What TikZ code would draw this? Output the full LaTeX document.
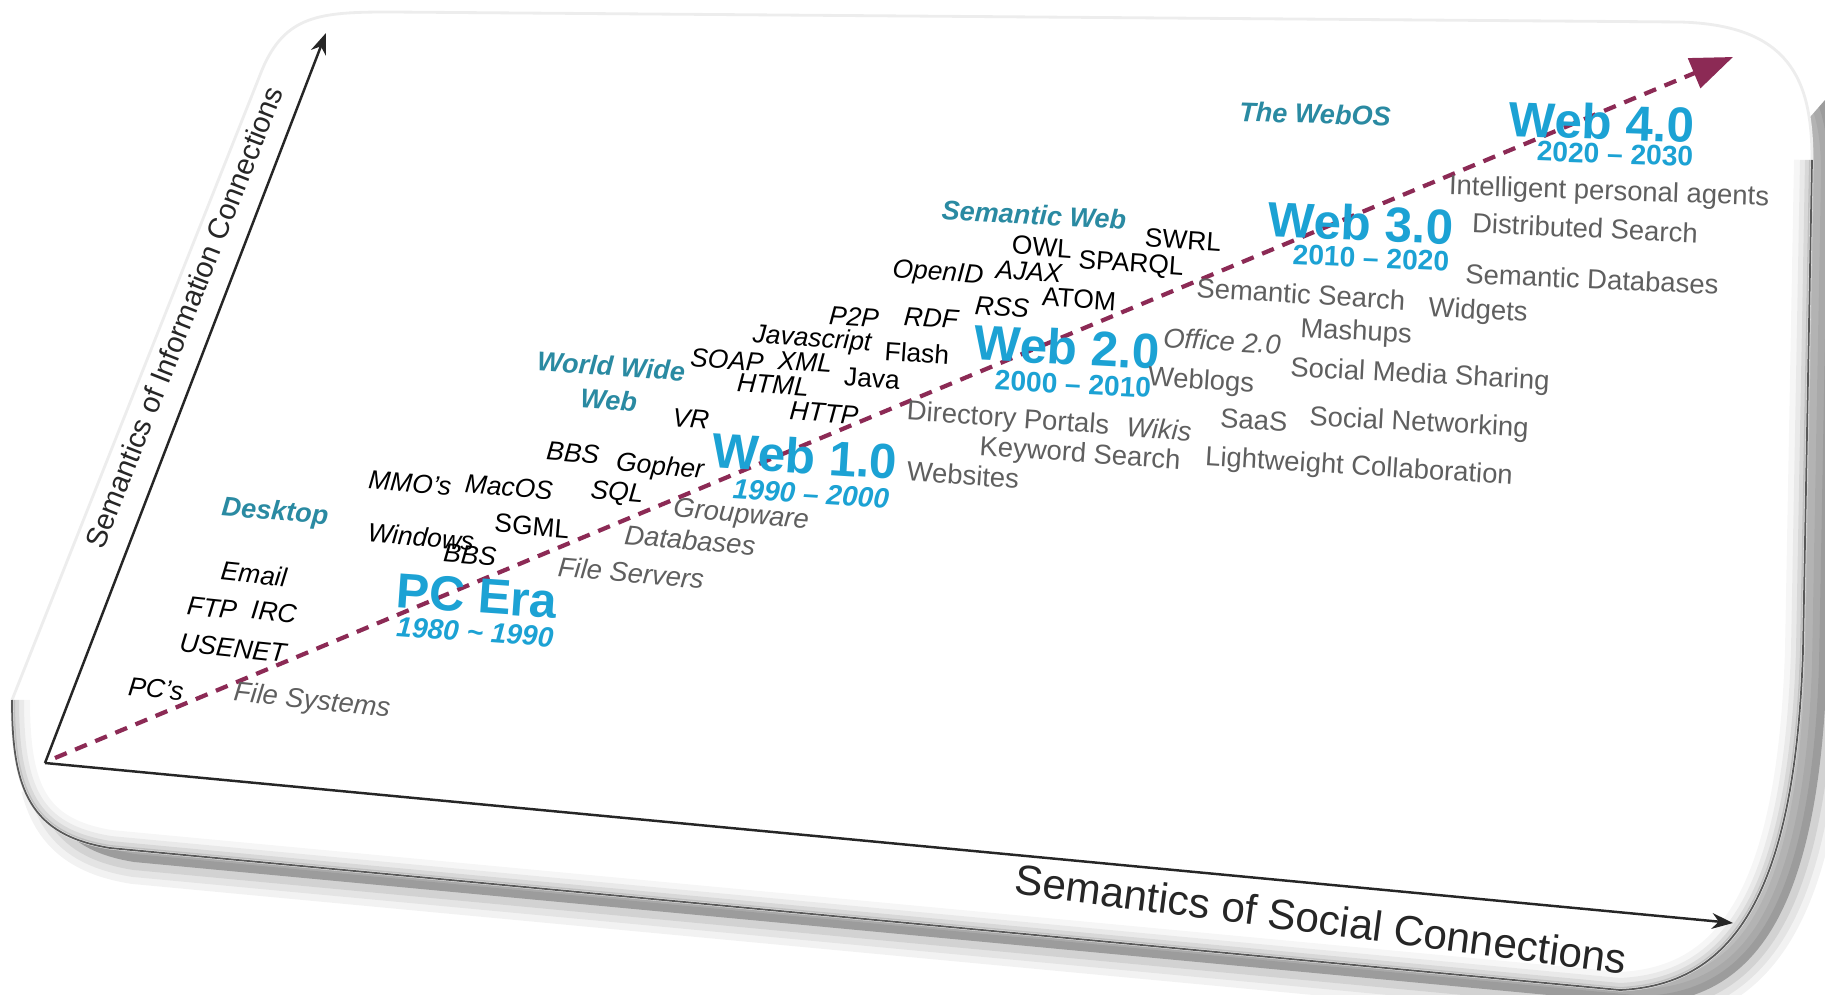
\documentclass[tikz,border=0pt]{standalone}
\usepackage{fontspec}
\setmainfont{Liberation Sans}
\usetikzlibrary{arrows.meta}
\definecolor{eraBlue}{RGB}{28,162,212}
\definecolor{catTeal}{RGB}{42,138,162}
\definecolor{arrowMaroon}{RGB}{140,42,85}
\definecolor{techGray}{RGB}{95,95,95}
\begin{document}
\begin{tikzpicture}[x=0.01cm,y=-0.01cm,
  cardp/.style={insert path={(12,700) -- (262,70) .. controls (285,15) and (320,12) .. (390,12) -- (1680,22) .. controls (1790,25) and (1812,80) .. (1812,160) -- (1803,650) .. controls (1795,900) and (1730,985) .. (1620,990) -- (110,848) .. controls (30,835) and (12,790) .. (12,700) -- cycle}},
  edgep/.style={insert path={(1812,160) -- (1803,650) .. controls (1795,900) and (1730,985) .. (1620,990) -- (110,848) .. controls (30,835) and (12,790) .. (12,700)}},
  tech/.style={font=\fontsize{7.5}{9}\selectfont\itshape, text=black, inner sep=1pt},
  techu/.style={font=\fontsize{7.5}{9}\selectfont, text=black, inner sep=1pt},
  app/.style={font=\fontsize{7.8}{9}\selectfont, text=techGray, inner sep=1pt},
  appi/.style={font=\fontsize{7.8}{9}\selectfont\itshape, text=techGray, inner sep=1pt},
  era/.style={font=\fontsize{14}{16}\selectfont\bfseries, text=eraBlue, inner sep=1pt},
  yr/.style={font=\fontsize{8}{9}\selectfont\bfseries, text=eraBlue, inner sep=1pt},
  yri/.style={font=\fontsize{8}{9}\selectfont\bfseries\itshape, text=eraBlue, inner sep=1pt},
  cat/.style={font=\fontsize{7.7}{9.5}\selectfont\bfseries\itshape, text=catTeal, inner sep=1pt, align=center},
  axislabel/.style={font=\fontsize{8.3}{10}\selectfont, text=black!85, inner sep=1pt},
  axisline/.style={line width=0.7pt, black!85, -{Stealth[length=6pt,width=4.5pt]}},
  trend/.style={arrowMaroon, line width=1.2pt, dash pattern=on 3.6pt off 2.6pt, -{Triangle[length=12pt,width=9pt]}}
]
\useasboundingbox (0,0) rectangle (1825,995);
% shadow (only toward the lower right)
\begin{scope}
  \clip (0,800) -- (1790,140) -- (1825,100) -- (1825,995) -- (0,995) -- cycle;
  \begin{scope}[shift={(24,14)}]
    \foreach \w/\o in {44/0.05,30/0.06,16/0.08}
      \draw[black, opacity=\o, line width=\w*0.2845pt, line join=round, cardp];
    \fill[black, opacity=0.26, cardp];
  \end{scope}
\end{scope}
% card face
\fill[white, cardp];
\begin{scope}
  \clip[cardp];
  \foreach \w/\o in {36/0.035,24/0.05,14/0.07,6/0.1}
    \draw[black, opacity=\o, line width=\w*0.2845pt, edgep];
\end{scope}
\draw[black!7, line width=0.8pt, cardp];
\draw[black!65, line width=0.5pt, edgep];

% axes
\coordinate (o) at (45,763);
\coordinate (ytip) at (326,33);
\coordinate (xtip) at (1733,923);
\coordinate (dstart) at (55,758);
\coordinate (dtip) at (1733,57);
\draw[axisline] (o) -- (ytip);
\draw[axisline] (o) -- (xtip);
\node[axislabel, rotate=68.5] (ylab) at (184,317) {Semantics of Information Connections};
\node[axislabel, font=\fontsize{12}{14}\selectfont, rotate=-7.5] (xlab) at (1321,919) {Semantics of Social Connections};

% trend arrow
\draw[trend] (dstart) -- (dtip);

% eras
\node[era, rotate=-4] (pcera) at (477,596) {PC Era};
\node[yri, rotate=-4] (pcyr) at (475,632) {1980 \textasciitilde{} 1990};
\node[era, rotate=-3.5] (web1) at (805,456) {Web 1.0};
\node[yri, rotate=-3.5] (web1yr) at (811,494) {1990 – 2000};
\node[era, rotate=-3] (web2) at (1067,347) {Web 2.0};
\node[yr, rotate=-3] (web2yr) at (1073,384) {2000 – 2010};
\node[era, rotate=-2.5] (web3) at (1361,223) {Web 3.0};
\node[yr, rotate=-2.5] (web3yr) at (1371,258) {2010 – 2020};
\node[era, rotate=-2] (web4) at (1602,122) {Web 4.0};
\node[yr, rotate=-2] (web4yr) at (1615,154) {2020 – 2030};

% categories
\node[cat, rotate=-5] (desktop) at (275,513) {Desktop};
\node[cat, rotate=-4] (www) at (610,383) {World Wide\\Web};
\node[cat, rotate=-3] (semweb) at (1034,215) {Semantic Web};
\node[cat, rotate=-2] (webos) at (1315,114) {The WebOS};

% technologies
\node[tech, rotate=-6] (pcs) at (156,689) {PC's};
\node[tech, rotate=-6] (usenet) at (233,648) {USENET};
\node[tech, rotate=-6] (ftp) at (212,608) {FTP};
\node[tech, rotate=-6] (irc) at (274,612) {IRC};
\node[tech, rotate=-6] (email) at (254,574) {Email};
\node[tech, rotate=-5] (windows) at (421,537) {Windows};
\node[tech, rotate=-5] (bbsA) at (470,555) {BBS};
\node[techu, rotate=-5] (sgml) at (532,526) {SGML};
\node[tech, rotate=-5] (mmo) at (410,483) {MMO's};
\node[tech, rotate=-5] (macos) at (509,487) {MacOS};
\node[tech, rotate=-5] (sql) at (617,494) {SQL};
\node[tech, rotate=-5] (bbsB) at (573,453) {BBS};
\node[tech, rotate=-5] (gopher) at (660,468) {Gopher};
\node[tech, rotate=-5] (vr) at (691,419) {VR};
\node[tech, rotate=-4] (http) at (824,413) {HTTP};
\node[tech, rotate=-4] (html) at (773,385) {HTML};
\node[techu, rotate=-4] (java) at (872,379) {Java};
\node[tech, rotate=-4] (soap) at (727,360) {SOAP};
\node[tech, rotate=-4] (xml) at (805,362) {XML};
\node[tech, rotate=-4] (js) at (812,340) {Javascript};
\node[techu, rotate=-4] (flash) at (917,353) {Flash};
\node[tech, rotate=-4] (p2p) at (854,317) {P2P};
\node[tech, rotate=-4] (rdf) at (931,318) {RDF};
\node[tech, rotate=-4] (rss) at (1002,307) {RSS};
\node[techu, rotate=-4] (atom) at (1079,299) {ATOM};
\node[tech, rotate=-4] (openid) at (938,274) {OpenID};
\node[tech, rotate=-4] (ajax) at (1029,272) {AJAX};
\node[techu, rotate=-4] (owl) at (1042,247) {OWL};
\node[techu, rotate=-4] (sparql) at (1131,265) {SPARQL};
\node[techu, rotate=-4] (swrl) at (1183,240) {SWRL};

% applications
\node[appi, rotate=-6] (fsys) at (312,702) {File Systems};
\node[appi, rotate=-5] (fserv) at (631,573) {File Servers};
\node[appi, rotate=-5] (db) at (690,540) {Databases};
\node[appi, rotate=-5] (group) at (741,516) {Groupware};
\node[app, rotate=-4] (websites) at (963,475) {Websites};
\node[app, rotate=-4] (dirport) at (1008,420) {Directory Portals};
\node[app, rotate=-4] (kwsearch) at (1080,455) {Keyword Search};
\node[appi, rotate=-4] (wikis) at (1159,429) {Wikis};
\node[app, rotate=-3.5] (weblogs) at (1201,382) {Weblogs};
\node[appi, rotate=-3.5] (office) at (1222,341) {Office 2.0};
\node[app, rotate=-3.5] (saas) at (1254,420) {SaaS};
\node[app, rotate=-3.5] (lwcollab) at (1359,468) {Lightweight Collaboration};
\node[app, rotate=-3] (socnet) at (1419,424) {Social Networking};
\node[app, rotate=-3] (socmedia) at (1420,376) {Social Media Sharing};
\node[app, rotate=-3] (mashups) at (1356,333) {Mashups};
\node[app, rotate=-3] (widgets) at (1478,312) {Widgets};
\node[app, rotate=-3.5] (semsearch) at (1301,294) {Semantic Search};
\node[app, rotate=-2.5] (semdb) at (1592,279) {Semantic Databases};
\node[app, rotate=-2.5] (distsearch) at (1585,228) {Distributed Search};
\node[app, rotate=-2] (agents) at (1609,193) {Intelligent personal agents};
\end{tikzpicture}
\end{document}
